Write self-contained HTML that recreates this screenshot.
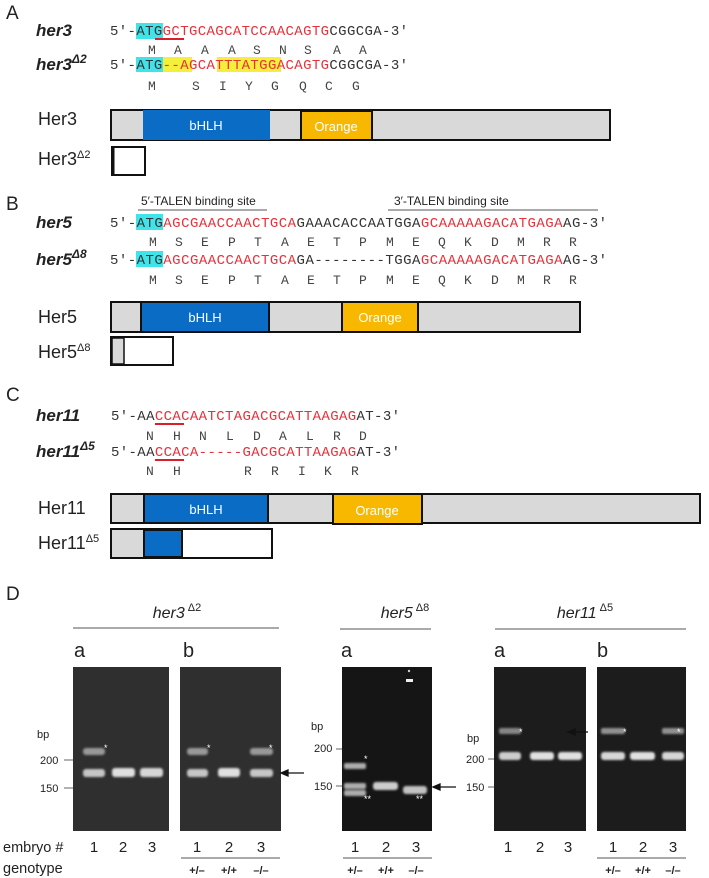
<!DOCTYPE html>
<html><head><meta charset="utf-8"><style>
html,body{margin:0;padding:0;background:#fff;}
svg{display:block;}
.m{font-family:"Liberation Mono",monospace;font-size:14px;}
.aa{font-family:"Liberation Mono",monospace;font-size:13px;fill:#444;}
.s{font-family:"Liberation Sans",sans-serif;}
.g{font-family:"Liberation Sans",sans-serif;font-style:italic;font-weight:bold;font-size:17px;fill:#222;}
.lab{font-family:"Liberation Sans",sans-serif;font-size:18px;fill:#222;}
.r{fill:#e8303a;}
.k{fill:#333;}
.dom{font-family:"Liberation Sans",sans-serif;font-size:13px;fill:#fff;}
</style></head><body>
<svg width="709" height="878" viewBox="0 0 709 878" xmlns="http://www.w3.org/2000/svg">
<defs><filter id="bl" x="-20%" y="-60%" width="140%" height="220%"><feGaussianBlur stdDeviation="1.1"/></filter></defs>

<!-- A -->
<text x="6" y="19" class="s" font-size="19" fill="#222">A</text>
<text x="36" y="36" class="g">her3</text>
<text x="36" y="70" class="g">her3<tspan font-size="12" dy="-7">Δ2</tspan></text>
<rect x="136" y="23" width="27" height="16" fill="#3fe3ea"/>
<text x="110" y="35" class="m" textLength="298" lengthAdjust="spacing"><tspan class="k">5′-ATG</tspan><tspan class="r">GCTGCAGCATCCAACAGTG</tspan><tspan class="k">CGGCGA-3′</tspan></text>
<line x1="155" y1="39" x2="184" y2="39" stroke="#d8202a" stroke-width="2"/>
<text y="54" class="aa" x="148 174 201 228 253 279 304 333 359">MAAASNSAA</text>
<rect x="136" y="57" width="27" height="15" fill="#3fe3ea"/>
<rect x="163" y="57" width="29" height="15" fill="#f4ef3a"/>
<rect x="217" y="57" width="64" height="15" fill="#f4ef3a"/>
<text x="110" y="69" class="m" textLength="298" lengthAdjust="spacing"><tspan class="k">5′-ATG</tspan><tspan class="r">--AGCATTTATGGACAGTG</tspan><tspan class="k">CGGCGA-3′</tspan></text>
<text y="90" class="aa" x="148 192 219 245 271 299 325 352">MSIYGQCG</text>
<text x="38" y="125" class="lab">Her3</text>
<rect x="111" y="110" width="499" height="30" fill="#d9d9d9" stroke="#111" stroke-width="2"/>
<rect x="143" y="110" width="127" height="30" fill="#0a6cc4"/>
<text x="206" y="130" class="dom" text-anchor="middle">bHLH</text>
<rect x="301" y="111" width="71" height="29" fill="#f8b800" stroke="#111" stroke-width="2"/>
<text x="336" y="131" class="dom" text-anchor="middle">Orange</text>
<text x="38" y="165" class="lab">Her3<tspan font-size="11" dy="-7">Δ2</tspan></text>
<rect x="112" y="147" width="33" height="28" fill="#fff" stroke="#111" stroke-width="2"/>
<line x1="113" y1="147" x2="113" y2="175" stroke="#111" stroke-width="3"/>

<!-- B -->
<text x="6" y="210" class="s" font-size="19" fill="#222">B</text>
<text x="141" y="205" class="s" font-size="12" fill="#222">5′-TALEN binding site</text>
<line x1="138" y1="210" x2="267" y2="210" stroke="#555" stroke-width="1"/>
<text x="394" y="205" class="s" font-size="12" fill="#222">3′-TALEN binding site</text>
<line x1="388" y1="210" x2="598" y2="210" stroke="#555" stroke-width="1"/>
<text x="36" y="228" class="g">her5</text>
<text x="36" y="265" class="g">her5<tspan font-size="12" dy="-7">Δ8</tspan></text>
<rect x="136" y="214" width="27" height="16" fill="#3fe3ea"/>
<text x="110" y="227" class="m" textLength="497" lengthAdjust="spacing"><tspan class="k">5′-ATG</tspan><tspan class="r">AGCGAACCAACTGCA</tspan><tspan class="k">GAAACACCAATGGA</tspan><tspan class="r">GCAAAAAGACATGAGA</tspan><tspan class="k">AG-3′</tspan></text>
<text y="246" class="aa" x="149 175 201 228 254 281 307 333 359 386 412 438 464 491 517 543 569">MSEPTAETPMEQKDMRR</text>
<rect x="136" y="251" width="27" height="16" fill="#3fe3ea"/>
<text x="110" y="264" class="m" textLength="497" lengthAdjust="spacing"><tspan class="k">5′-ATG</tspan><tspan class="r">AGCGAACCAACTGCA</tspan><tspan class="k">GA--------TGGA</tspan><tspan class="r">GCAAAAAGACATGAGA</tspan><tspan class="k">AG-3′</tspan></text>
<text y="284" class="aa" x="149 175 201 228 254 281 307 333 359 386 412 438 464 491 517 543 569">MSEPTAETPMEQKDMRR</text>
<text x="38" y="323" class="lab">Her5</text>
<rect x="111" y="302" width="469" height="30" fill="#d9d9d9" stroke="#111" stroke-width="2"/>
<rect x="141" y="302" width="128" height="30" fill="#0a6cc4" stroke="#111" stroke-width="2"/>
<text x="205" y="322" class="dom" text-anchor="middle">bHLH</text>
<rect x="342" y="302" width="76" height="30" fill="#f8b800" stroke="#111" stroke-width="2"/>
<text x="380" y="322" class="dom" text-anchor="middle">Orange</text>
<text x="38" y="358" class="lab">Her5<tspan font-size="11" dy="-7">Δ8</tspan></text>
<rect x="111" y="337" width="62" height="28" fill="#fff" stroke="#111" stroke-width="2"/>
<rect x="112" y="338" width="12" height="26" fill="#d9d9d9" stroke="#111" stroke-width="1.5"/>

<!-- C -->
<text x="6" y="401" class="s" font-size="19" fill="#222">C</text>
<text x="36" y="421" class="g">her11</text>
<text x="36" y="457" class="g">her11<tspan font-size="12" dy="-7">Δ5</tspan></text>
<text x="111" y="420" class="m" textLength="289" lengthAdjust="spacing"><tspan class="k">5′-AA</tspan><tspan class="r">CCACAATCTAGACGCATTAAGAG</tspan><tspan class="k">AT-3′</tspan></text>
<line x1="155" y1="424" x2="184" y2="424" stroke="#d8202a" stroke-width="2"/>
<text y="440" class="aa" x="146 173 199 226 253 279 306 333 359">NHNLDALRD</text>
<text x="111" y="456" class="m" textLength="289" lengthAdjust="spacing"><tspan class="k">5′-AA</tspan><tspan class="r">CCACA-----GACGCATTAAGAG</tspan><tspan class="k">AT-3′</tspan></text>
<line x1="155" y1="460" x2="184" y2="460" stroke="#d8202a" stroke-width="2"/>
<text y="475" class="aa" x="146 173 244 271 298 324 351">NHRRIKR</text>
<text x="38" y="514" class="lab">Her11</text>
<rect x="111" y="494" width="589" height="29" fill="#d9d9d9" stroke="#111" stroke-width="2"/>
<rect x="144" y="494" width="124" height="29" fill="#0a6cc4" stroke="#111" stroke-width="2"/>
<text x="206" y="514" class="dom" text-anchor="middle">bHLH</text>
<rect x="333" y="494" width="89" height="30" fill="#f8b800" stroke="#111" stroke-width="2"/>
<text x="377" y="515" class="dom" text-anchor="middle">Orange</text>
<text x="38" y="549" class="lab">Her11<tspan font-size="11" dy="-7">Δ5</tspan></text>
<rect x="111" y="529" width="161" height="29" fill="#fff" stroke="#111" stroke-width="2"/>
<rect x="112" y="530" width="32" height="27" fill="#d9d9d9"/>
<rect x="144" y="530" width="38" height="27" fill="#0a6cc4" stroke="#111" stroke-width="2"/>

<!-- D -->
<text x="6" y="600" class="s" font-size="19" fill="#222">D</text>
<text x="177" y="618" class="s" font-size="16" font-style="italic" fill="#222" text-anchor="middle">her3<tspan font-size="11" dy="-7" font-style="normal"> Δ2</tspan></text>
<line x1="73" y1="628" x2="279" y2="628" stroke="#555"/>
<text x="405" y="618" class="s" font-size="16" font-style="italic" fill="#222" text-anchor="middle">her5<tspan font-size="11" dy="-7" font-style="normal"> Δ8</tspan></text>
<line x1="340" y1="629" x2="431" y2="629" stroke="#555"/>
<text x="585" y="618" class="s" font-size="16" font-style="italic" fill="#222" text-anchor="middle">her11<tspan font-size="11" dy="-7" font-style="normal"> Δ5</tspan></text>
<line x1="495" y1="629" x2="686" y2="629" stroke="#555"/>
<g class="s" font-size="20" fill="#222">
<text x="74" y="657">a</text><text x="183" y="657">b</text>
<text x="341" y="657">a</text>
<text x="494" y="657">a</text><text x="597" y="657">b</text>
</g>

<!-- gels -->
<rect x="73" y="667" width="96" height="164" fill="#2f2f2f"/>
<rect x="180" y="667" width="101" height="164" fill="#2f2f2f"/>
<rect x="342" y="667" width="90" height="164" fill="#151515"/>
<rect x="494" y="667" width="92" height="164" fill="#1c1c1c"/>
<rect x="597" y="667" width="89" height="164" fill="#1c1c1c"/>
<g fill="#e0e0e0" filter="url(#bl)">
<rect x="83" y="748" width="22" height="7" rx="3" opacity=".6"/>
<rect x="83" y="769" width="22" height="8" rx="3" opacity=".85"/>
<rect x="112" y="768" width="23" height="9" rx="3"/>
<rect x="140" y="768" width="23" height="9" rx="3" opacity=".95"/>
<rect x="187" y="748" width="21" height="7" rx="3" opacity=".6"/>
<rect x="187" y="769" width="21" height="8" rx="3" opacity=".85"/>
<rect x="218" y="768" width="22" height="9" rx="3"/>
<rect x="250" y="748" width="23" height="7" rx="3" opacity=".6"/>
<rect x="250" y="769" width="23" height="8" rx="3" opacity=".85"/>
<rect x="344" y="763" width="22" height="6" rx="2" opacity=".75"/>
<rect x="344" y="783" width="22" height="6" rx="2" opacity=".75"/>
<rect x="344" y="790" width="22" height="6" rx="2" opacity=".75"/>
<rect x="373" y="782" width="25" height="8" rx="3" opacity=".9"/>
<rect x="403" y="786" width="24" height="8" rx="3" opacity=".85"/>
<rect x="499" y="728" width="22" height="6" rx="2" opacity=".55"/>
<rect x="499" y="752" width="22" height="8" rx="3" opacity=".9"/>
<rect x="530" y="752" width="24" height="8" rx="3"/>
<rect x="558" y="752" width="24" height="8" rx="3"/>
<rect x="601" y="728" width="24" height="6" rx="2" opacity=".6"/>
<rect x="601" y="752" width="24" height="8" rx="3" opacity=".95"/>
<rect x="630" y="752" width="25" height="8" rx="3"/>
<rect x="662" y="728" width="22" height="6" rx="2" opacity=".6"/>
<rect x="662" y="752" width="22" height="8" rx="3" opacity=".95"/>
</g>
<g fill="#fff" font-size="9" class="s">
<text x="104" y="751">*</text><text x="207" y="751">*</text><text x="269" y="751">*</text>
<text x="364" y="762">*</text><text x="364" y="802">**</text><text x="416" y="802">**</text>
<text x="519" y="735">*</text><text x="623" y="735">*</text><text x="677" y="735">*</text>
</g>
<circle cx="409" cy="671" r="1.2" fill="#ccc"/><rect x="406" y="679" width="7" height="3" fill="#eee"/>

<g class="s" font-size="11" fill="#222">
<text x="37" y="738">bp</text><text x="40" y="764">200</text><text x="40" y="792">150</text>
<text x="311" y="730">bp</text><text x="314" y="752">200</text><text x="314" y="790">150</text>
<text x="467" y="742">bp</text><text x="466" y="763">200</text><text x="466" y="791">150</text>
</g>
<g stroke="#666" stroke-width="1">
<line x1="64" y1="760" x2="73" y2="760"/><line x1="64" y1="788" x2="73" y2="788"/>
<line x1="336" y1="749" x2="342" y2="749"/><line x1="336" y1="786" x2="342" y2="786"/>
<line x1="488" y1="759" x2="494" y2="759"/><line x1="488" y1="787" x2="494" y2="787"/>
</g>
<g stroke="#111" stroke-width="1.3" fill="#111">
<line x1="286" y1="773" x2="304" y2="773"/><path d="M281 773 L288 770 L288 776Z"/>
<line x1="438" y1="787" x2="456" y2="787"/><path d="M433 787 L440 784 L440 790Z"/>
<line x1="573" y1="732" x2="588" y2="732"/><path d="M568 732 L575 729 L575 735Z"/>
</g>

<g class="s" font-size="15" fill="#222" text-anchor="middle">
<text x="3" y="852" text-anchor="start" font-size="14.5">embryo #</text>
<text x="94" y="852">1</text><text x="123" y="852">2</text><text x="152" y="852">3</text>
<text x="197" y="852">1</text><text x="229" y="852">2</text><text x="261" y="852">3</text>
<text x="355" y="852">1</text><text x="386" y="852">2</text><text x="416" y="852">3</text>
<text x="508" y="852">1</text><text x="540" y="852">2</text><text x="568" y="852">3</text>
<text x="613" y="852">1</text><text x="643" y="852">2</text><text x="673" y="852">3</text>
<text x="3" y="873" text-anchor="start" font-size="14.5">genotype</text>
</g>
<g stroke="#555"><line x1="181" y1="858" x2="280" y2="858"/><line x1="343" y1="858" x2="432" y2="858"/><line x1="597" y1="858" x2="686" y2="858"/></g>
<g class="s" font-size="11" font-weight="bold" fill="#222" text-anchor="middle">
<text x="197" y="874">+/–</text><text x="229" y="874">+/+</text><text x="261" y="874">–/–</text>
<text x="355" y="874">+/–</text><text x="386" y="874">+/+</text><text x="416" y="874">–/–</text>
<text x="613" y="874">+/–</text><text x="643" y="874">+/+</text><text x="673" y="874">–/–</text>
</g>
</svg>
</body></html>
